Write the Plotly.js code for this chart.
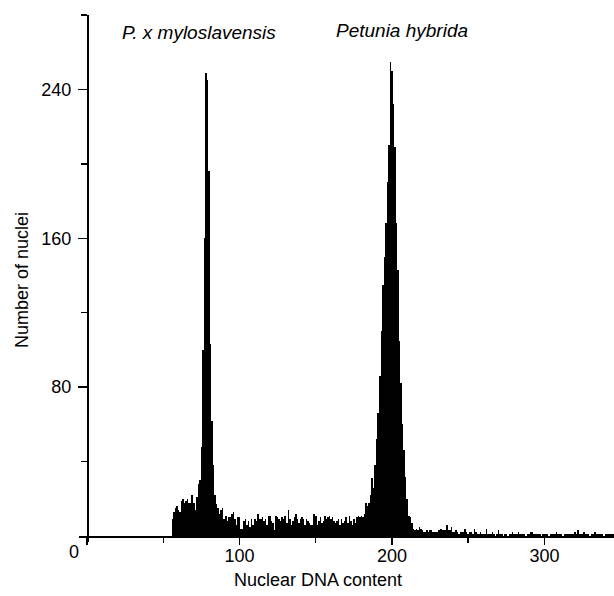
<!DOCTYPE html>
<html>
<head>
<meta charset="utf-8">
<script src="https://cdn.plot.ly/plotly-3.0.1.min.js"></script>
<style>html,body{margin:0;padding:0;background:#fff;}#chart{width:614px;height:596px;}</style>
</head>
<body>
<div id="chart"></div>
<script>
// Histogram channels (Nuclear DNA content), first channel with counts
const firstChannel = 56;

// Counts per channel, split by region of the histogram
const countsRise = [9, 13, 15, 16, 14, 13, 19, 20, 18, 19, 20, 18, 18, 22, 18, 14, 21, 28, 30];            // 56-74
const countsPeak1 = [48, 100, 160, 249, 245, 196, 103, 62, 38, 22, 17, 15];                                  // 75-86
const countsValleyA = [12, 14, 15, 9, 11, 8, 10, 10, 12, 13, 9, 6, 10, 10, 4, 4, 8, 9, 6, 8, 5, 9, 6, 9, 8]; // 87-111
const countsValleyB = [12, 9, 9, 10, 8, 9, 6, 11, 11, 8, 7, 3, 11, 10, 9, 8, 10, 9, 11, 7, 14, 9, 6, 8, 10,
                       12, 9, 7, 9, 10, 9, 6, 9, 8, 7, 6, 6, 12, 11, 6, 8, 10, 7, 8, 11, 9, 10, 11, 9, 10,
                       8, 7, 8, 9, 6, 9, 7, 8, 10, 7, 11, 8, 6, 9, 7, 10, 11, 10, 11, 10, 12];         // 112-182
const countsPeak2 = [18, 16, 18, 22, 31, 26, 38, 52, 66, 86, 110, 135, 150, 168, 190, 210, 255, 250, 232,
                     209, 168, 143, 105, 82, 60, 46, 32, 20, 11, 10, 7, 4, 3];                             // 183-215
const countsTail = [4, 3, 5, 4, 3, 2, 2, 3, 2, 3, 3, 2, 2, 2, 2, 3, 4, 3, 3, 3, 6, 3, 3, 5, 2, 2, 3, 2, 1, 2,
                    2, 2, 4, 2, 1, 2, 2, 1, 4, 2, 1, 1, 2, 1, 1, 1, 4, 1, 1, 1, 2, 1, 0, 1, 3, 1, 1, 0, 1, 1,
                    0, 1, 1, 2, 1, 1, 1, 2, 1, 1, 1, 1, 0, 1, 1, 2, 2, 1, 1, 1, 1, 1, 0, 1, 1, 1, 1, 0, 1, 1,
                    1, 1, 2, 1, 1, 1, 0, 1, 1, 1, 1, 1, 1, 1, 2, 1, 3, 1, 1, 1, 2, 1, 1, 1, 0, 1, 1, 2, 1, 1,
                    1, 1, 1, 0, 1, 1, 1, 1, 1, 1];                                                           // 216-345

const xTickVals = [0, 100, 200, 300];
const xTickText = ['', '100', '200', '300'];
const xMinorVals = [50, 150, 250, 350];
const yTickVals = [80, 160, 240];
const yTickText = ['80', '160', '240'];
const yMinorVals = [40, 120, 200, 280];

const speciesLabels = ['P. x myloslavensis', 'Petunia hybrida'];
const xTitle = 'Nuclear DNA content';
const yTitle = 'Number of nuclei';
const originLabel = '0';

const counts = [].concat(countsRise, countsPeak1, countsValleyA, countsValleyB, countsPeak2, countsTail);
const channels = counts.map((_, i) => firstChannel + i);

const FONT = 'Liberation Sans, Arial, sans-serif';
const xRange = [-5.25, 345.6];
const yRange = [-3.2, 280];

const trace = {
  type: 'bar',
  x: channels,
  y: counts,
  width: 1,
  marker: {color: '#000', line: {width: 0}},
  hoverinfo: 'x+y'
};

const layout = {
  width: 614,
  height: 596,
  margin: {l: 79, r: 0, t: 15, b: 54, pad: 0},
  paper_bgcolor: '#fff',
  plot_bgcolor: '#fff',
  showlegend: false,
  bargap: 0,
  font: {family: FONT, size: 18, color: '#000'},
  xaxis: {
    range: xRange,
    anchor: 'free',
    position: (0 - yRange[0]) / (yRange[1] - yRange[0]),
    showgrid: false, zeroline: false,
    showline: true, linecolor: '#000', linewidth: 1.5,
    ticks: 'outside', ticklen: 7, tickwidth: 1.5, tickcolor: '#000',
    tickmode: 'array', tickvals: xTickVals, ticktext: xTickText,
    ticklabelstandoff: -4,
    tickfont: {family: FONT, size: 18, color: '#000'},
    minor: {ticks: 'outside', ticklen: 5, tickwidth: 1.5, tickcolor: '#000', tickmode: 'array', tickvals: xMinorVals}
  },
  yaxis: {
    range: yRange,
    anchor: 'free',
    position: (0 - xRange[0]) / (xRange[1] - xRange[0]),
    showgrid: false, zeroline: false,
    showline: true, linecolor: '#000', linewidth: 1.5,
    ticks: 'outside', ticklen: 9, tickwidth: 1.5, tickcolor: '#000',
    tickmode: 'array', tickvals: yTickVals, ticktext: yTickText,
    ticklabelstandoff: 3,
    tickfont: {family: FONT, size: 18, color: '#000'},
    minor: {ticks: 'outside', ticklen: 6, tickwidth: 1.5, tickcolor: '#000', tickmode: 'array', tickvals: yMinorVals}
  },
  annotations: [
    {text: '<i>' + speciesLabels[0] + '</i>', xref: 'paper', yref: 'paper', x: 0.2234, y: 0.9677,
     xanchor: 'center', yanchor: 'middle', showarrow: false, font: {family: FONT, size: 19, color: '#000'}},
    {text: '<i>' + speciesLabels[1] + '</i>', xref: 'paper', yref: 'paper', x: 0.6037, y: 0.9715,
     xanchor: 'center', yanchor: 'middle', showarrow: false, font: {family: FONT, size: 19, color: '#000'}},
    {text: xTitle, xref: 'paper', yref: 'paper', x: 0.4467, y: -0.0721,
     xanchor: 'center', yanchor: 'middle', showarrow: false, font: {family: FONT, size: 18, color: '#000'}},
    {text: yTitle, xref: 'paper', yref: 'paper', x: -0.1065, y: 0.497, textangle: -90,
     xanchor: 'center', yanchor: 'middle', showarrow: false, font: {family: FONT, size: 18, color: '#000'}},
    {text: originLabel, xref: 'x', yref: 'y', x: 0, y: 0, xshift: -13, yshift: -4,
     xanchor: 'center', yanchor: 'top', showarrow: false, font: {family: FONT, size: 18, color: '#000'}}
  ]
};

Plotly.newPlot('chart', [trace], layout, {displayModeBar: false, staticPlot: true});
</script>
</body>
</html>
